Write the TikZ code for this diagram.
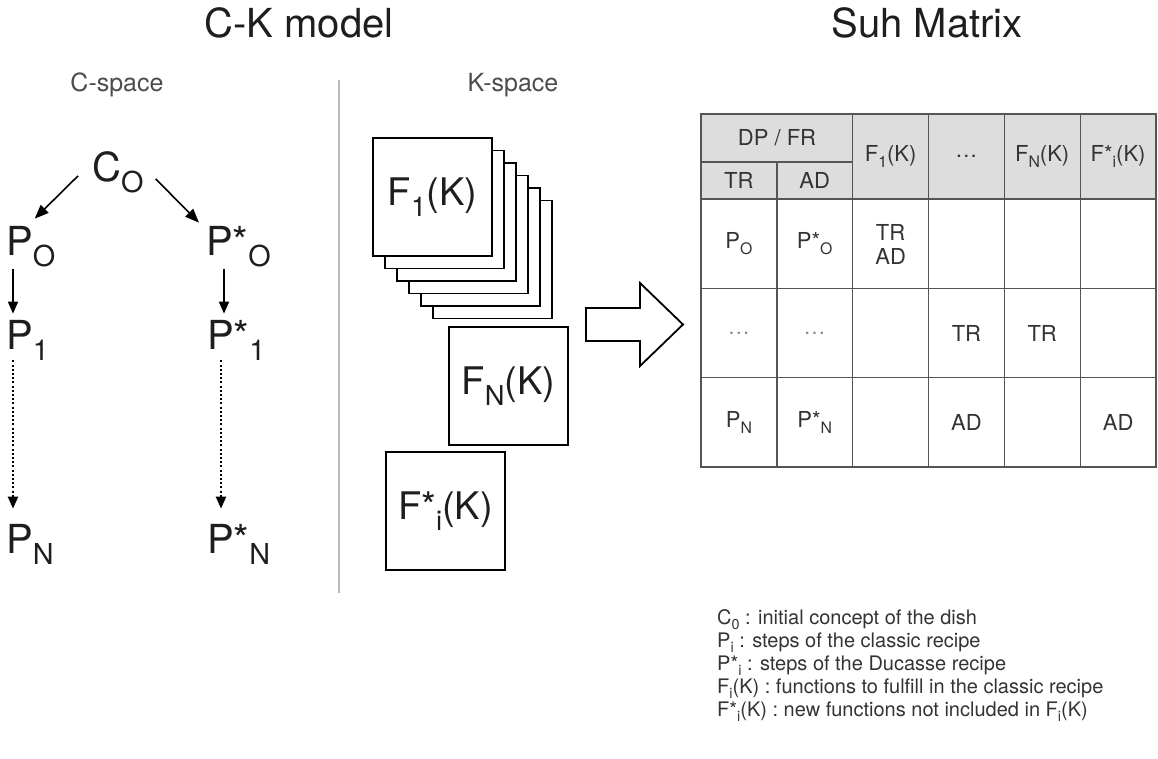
\documentclass[tikz,border=0pt]{standalone}
\usepackage{fontspec}
\setmainfont{TeX Gyre Heros}
\usepackage{graphicx}
\usetikzlibrary{arrows.meta}

\definecolor{inkgray}{RGB}{30,30,30}
\definecolor{hdrgray}{RGB}{221,221,221}
\definecolor{rulegray}{RGB}{85,85,85}

% lowered, smaller subscript as in the slide
\newcommand{\sbs}[1]{\raisebox{-0.28em}{\scalebox{0.72}{#1}}}
\newcommand{\fsz}[1]{\fontsize{#1}{#1}\selectfont}

\begin{document}
\begin{tikzpicture}[x=1pt, y=-1pt, >={Triangle[length=12pt,width=10pt]},
  every node/.style={inner sep=0pt, text=inkgray},
  title/.style={font=\fsz{40}, anchor=base},
  spacelbl/.style={font=\fsz{25}, anchor=base, text=black!70},
  big/.style={font=\fsz{40}, anchor=base west},
  link/.style={->, line width=1.6pt},
  diaglink/.style={-{Triangle[length=14pt,width=11pt]}, line width=1.6pt},
  dotlink/.style={->, line width=2.2pt, dash pattern=on 2pt off 2.2pt},
  kbox/.style={draw, line width=1.7pt, fill=white, minimum width=119,
               minimum height=118, font=\fsz{38}},
  cell/.style={font=\fsz{22}, text=black!80},
  legendtxt/.style={font=\fsz{20}, anchor=base west, text=black!80}]

  \useasboundingbox (0,0) rectangle (1158,758);

  % --- titles ---
  \node[title] (cktitle) at (299,37) {C-K model};
  \node[title] (suhtitle) at (927,37) {Suh Matrix};
  \node[spacelbl] (cspace) at (117,91) {C-space};
  \node[spacelbl] (kspace) at (513,91) {K-space};

  % separator between C and K
  \draw[gray!55, line width=1.5pt] (339,80) -- (339,593);

  % --- C-space tree ---
  \node[big] (co)  at (92,181)  {C\sbs{O}};
  \node[big] (po)  at (6,255)   {P\sbs{O}};
  \node[big] (ps0) at (206,255) {P*\sbs{O}};
  \node[big] (p1)  at (6,349)   {P\sbs{1}};
  \node[big] (ps1) at (207,349) {P*\sbs{1}};
  \node[big] (pn)  at (6,553)   {P\sbs{N}};
  \node[big] (psn) at (207,553) {P*\sbs{N}};

  \draw[diaglink] ([shift={(-14,4)}]co.west) -- ([shift={(4,-7)}]po.north);
  \draw[diaglink] ([shift={(12,7)}]co.east) -- ([shift={(-7,-3)}]ps0.north west);
  \draw[link] ([shift={(7,2)}]po.south west) -- ([shift={(7,-6)}]p1.north west);
  \draw[link] ([shift={(18,2)}]ps0.south west) -- ([shift={(17,-6)}]ps1.north west);
  \draw[dotlink] ([shift={(7,0)}]p1.south west) -- ([shift={(7,-15)}]pn.north west);
  \draw[dotlink] ([shift={(14,0)}]ps1.south west) -- ([shift={(14,-15)}]psn.north west);

  % --- K-space boxes (stack behind F1) ---
  \foreach \i in {5,4,...,1}
    \node[kbox] (fb\i) at ({432.5+12*\i},{197+12.5*\i}) {};
  \node[kbox] (f1)  at (432.5,197) {F\sbs{1}(K)};
  \node[kbox] (fn)  at (508.5,386) {F\sbs{N}(K)};
  \node[kbox] (fsi) at (445.5,511) {F*\sbs{i}(K)};

  % block arrow towards the matrix
  \draw[line width=1.8pt, fill=white, line join=miter]
    (586,308) -- (640,308) -- (640,283) -- (683,324.5) -- (640,366)
    -- (640,341) -- (586,341) -- cycle;

  % --- Suh matrix ---
  \def\cw{75.83}
  \def\rh{89.33}
  \fill[hdrgray] (701,114) rectangle (1156,199);
  \draw[rulegray, line width=1.2pt] (701,114) rectangle (1156,467);
  \draw[rulegray, line width=1.2pt] (701,162) -- (853,162);
  \draw[rulegray, line width=1.2pt] (777,162) -- (777,467);
  \foreach \c in {2,...,5}
    \draw[rulegray, line width=1.2pt] ({701+\c*\cw},114) -- ({701+\c*\cw},467);
  \foreach \r in {0,1,2}
    \draw[rulegray, line width=1.2pt] (701,{199+\r*\rh}) -- (1156,{199+\r*\rh});

  % header
  \node[cell] (hdpfr) at (777,138)      {DP / FR};
  \node[cell] (htr)   at (738.9,180.5)  {TR};
  \node[cell] (had)   at (814.7,180.5)  {AD};
  \node[cell] (hf1)   at (890.6,156.5)  {F\sbs{1}(K)};
  \node[cell] (hdots) at (966.4,156.5)  {\dots};
  \node[cell] (hfn)   at (1042.2,156.5) {F\sbs{N}(K)};
  \node[cell] (hfsi)  at (1118.1,156.5) {F*\sbs{i}(K)};

  % rows
  \node[cell] (rpo)   at (738.9,244)  {P\sbs{O}};
  \node[cell] (rpso)  at (814.7,244)  {P*\sbs{O}};
  \node[cell, align=center] (rtrad) at (890.6,244) {TR\\[2pt]AD};
  \node[cell, text=black!45] (rdots1) at (738.9,333.5) {\dots};
  \node[cell, text=black!45] (rdots2) at (814.7,333.5) {\dots};
  \node[cell] (rtr1)  at (966.4,333.5)  {TR};
  \node[cell] (rtr2)  at (1042.2,333.5) {TR};
  \node[cell] (rpn)   at (738.9,422.5)  {P\sbs{N}};
  \node[cell] (rpsn)  at (814.7,422.5)  {P*\sbs{N}};
  \node[cell] (rad1)  at (966.4,422.5)  {AD};
  \node[cell] (rad2)  at (1118.1,422.5) {AD};

  % --- legend ---
  \node[legendtxt] (lg1) at (717,624) {C\sbs{0} : initial concept of the dish};
  \node[legendtxt] (lg2) at (717,647) {P\sbs{i} : steps of the classic recipe};
  \node[legendtxt] (lg3) at (717,670) {P*\sbs{i} : steps of the Ducasse recipe};
  \node[legendtxt] (lg4) at (717,693) {F\sbs{i}(K) : functions to fulfill in the classic recipe};
  \node[legendtxt] (lg5) at (717,716) {F*\sbs{i}(K) : new functions not included in F\sbs{i}(K)};

\end{tikzpicture}
\end{document}
